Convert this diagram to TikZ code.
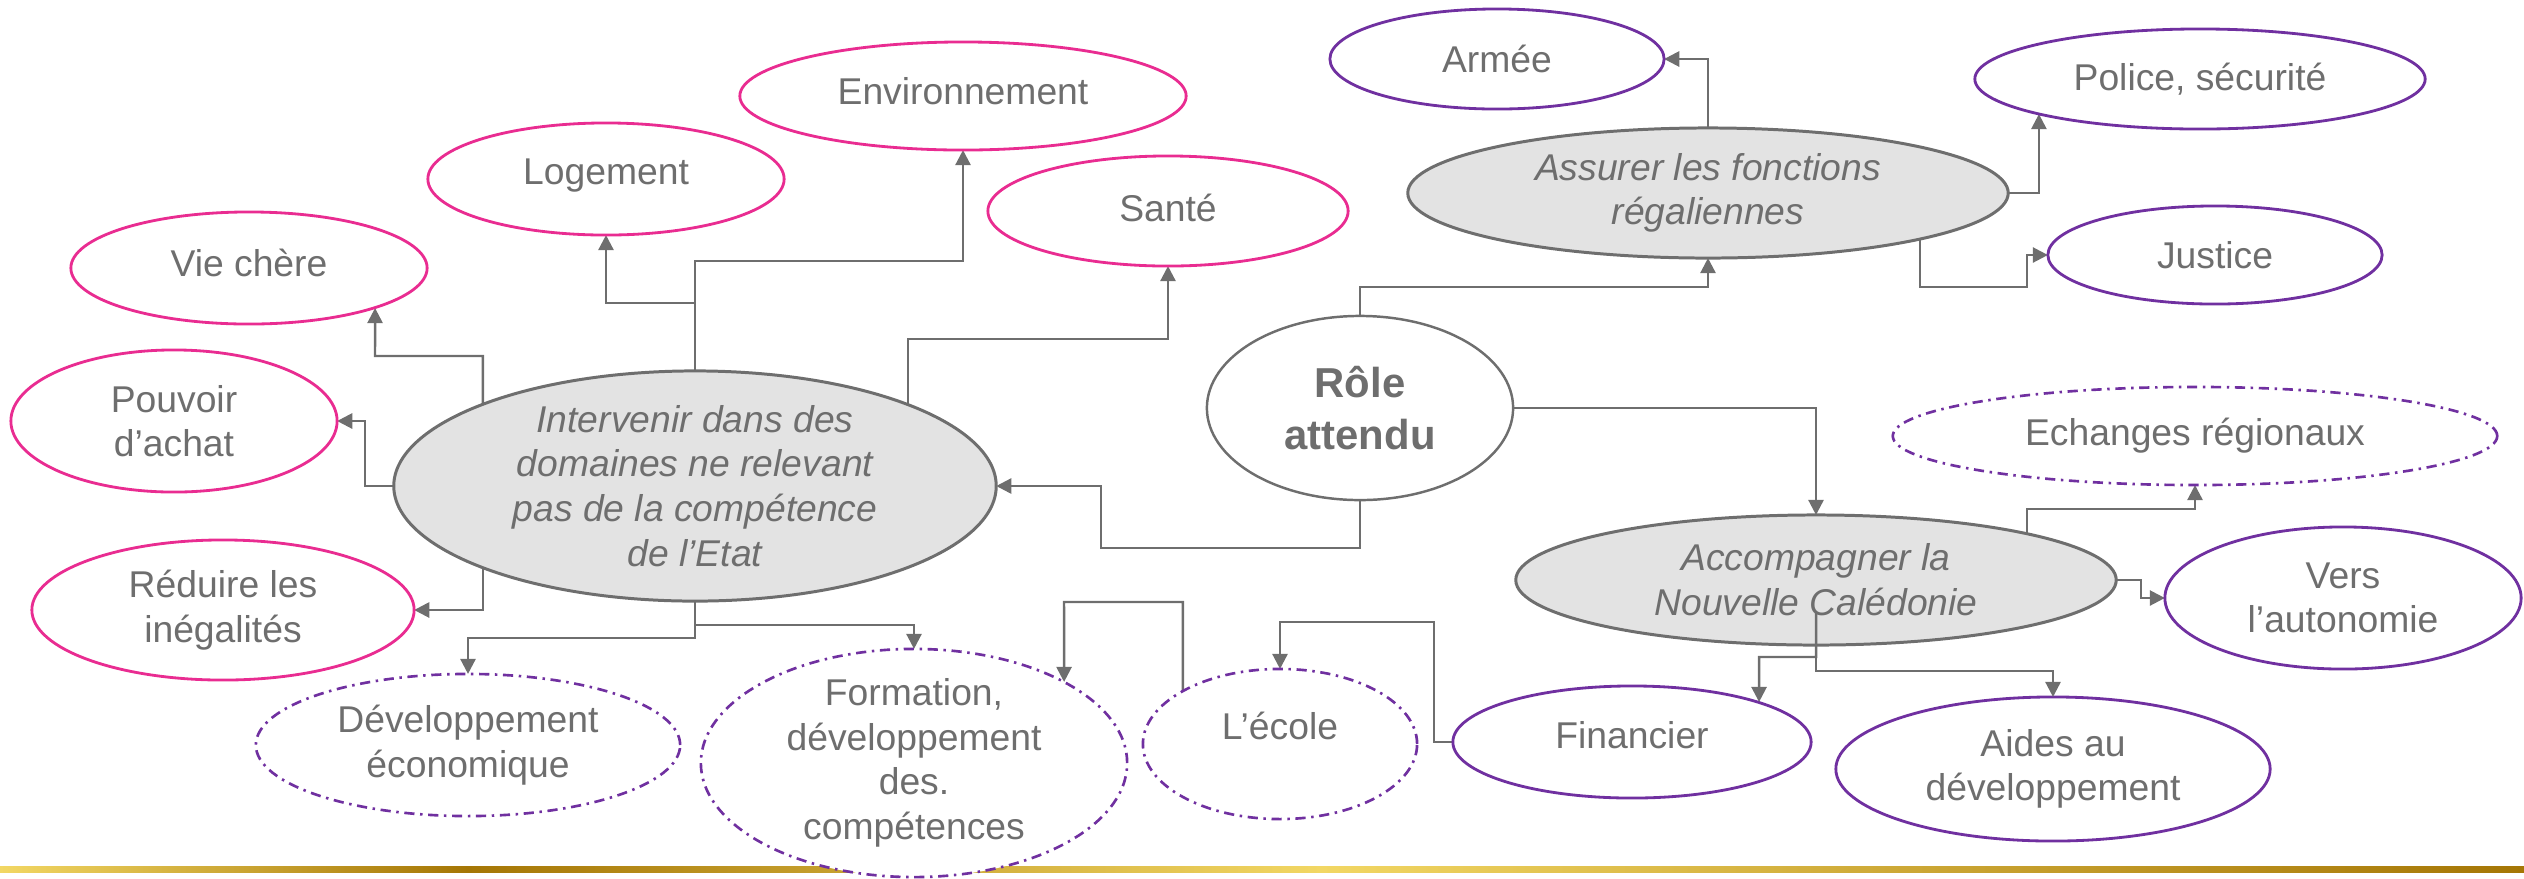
\documentclass[tikz,border=0pt]{standalone}
\usepackage{fontspec}
\setmainfont{Liberation Sans}
\usetikzlibrary{shapes.geometric,arrows.meta,backgrounds}
\definecolor{pinkc}{RGB}{233,44,145}
\definecolor{purpc}{RGB}{112,48,160}
\definecolor{grayc}{RGB}{110,110,110}
\definecolor{txtc}{RGB}{110,110,110}
\definecolor{fillc}{RGB}{227,227,227}
\definecolor{goldl}{RGB}{242,215,100}
\definecolor{goldd}{RGB}{165,118,5}
\newcommand\ellnode[6]{\node[#1, minimum width=#5*0.02cm, minimum height=#6*0.02cm] (#2) at (#3,#4) {};}
\begin{document}
\begin{tikzpicture}[x=0.01cm,y=-0.01cm,
 bub/.style={ellipse, inner sep=0pt, outer sep=0pt, fill=white},
 pinkel/.style={bub, draw=pinkc, line width=0.8pt},
 purpel/.style={bub, draw=purpc, line width=0.8pt},
 purpdd/.style={bub, draw=purpc, line width=0.75pt, dash pattern=on 2.9pt off 1.6pt on 0.7pt off 1.6pt},
 grayel/.style={bub, draw=grayc, line width=0.85pt, fill=fillc},
 roleel/.style={bub, draw=grayc, line width=0.7pt},
 lbl/.style={text=txtc, font=\fontsize{10.6}{12.7}\selectfont, align=center, inner sep=0pt},
 ilbl/.style={lbl, font=\fontsize{10.6}{12.7}\selectfont\itshape},
 blbl/.style={lbl, font=\fontsize{11.9}{14.8}\selectfont\bfseries},
 conn/.style={draw=grayc, line width=0.7pt, -{Triangle[length=4.3pt,width=4.3pt]}},
]
\useasboundingbox (0,0) rectangle (2524,878);
% gold bar
\shade[left color=goldl, right color=goldd] (0,866) rectangle (468,872);
\shade[left color=goldd, right color=goldl] (467,866) rectangle (1321,872);
\shade[left color=goldl, right color=goldd] (1320,866) rectangle (2524,872);
% ellipses
\ellnode{pinkel}{env}{963}{96}{223}{54}
\ellnode{pinkel}{log}{606}{179}{178}{56}
\ellnode{pinkel}{vie}{249}{268}{178}{56}
\ellnode{pinkel}{san}{1168}{211}{180}{55}
\ellnode{pinkel}{pou}{174}{421}{163}{71}
\ellnode{grayel}{inter}{695}{486}{301}{115}
\ellnode{pinkel}{red}{223}{610}{191}{70}
\ellnode{purpdd}{dev}{468}{745}{212}{71}
\ellnode{purpdd}{form}{914}{763}{213}{114}
\ellnode{purpdd}{eco}{1280}{744}{137}{75}
\ellnode{purpel}{fin}{1632}{742}{179}{56}
\ellnode{purpel}{aid}{2053}{769}{217}{72}
\ellnode{purpel}{ver}{2343}{598}{178}{71}
\ellnode{grayel}{acc}{1816}{580}{300}{65}
\ellnode{purpdd}{ech}{2195}{436}{302}{49}
\ellnode{roleel}{role}{1360}{408}{153}{92}
\ellnode{grayel}{ass}{1708}{193}{300}{65}
\ellnode{purpel}{arm}{1497}{59}{167}{50}
\ellnode{purpel}{pol}{2200}{79}{225}{50}
\ellnode{purpel}{jus}{2215}{255}{167}{49}
% texts
\node[lbl] (env-t) at ([yshift=0.05cm]env.center) {Environnement};
\node[lbl] (log-t) at ([yshift=0.03cm]log.center) {Logement};
\node[lbl] (vie-t) at ([yshift=0.05cm]vie.center) {Vie chère};
\node[lbl] (san-t) at ([yshift=0.03cm]san.center) {Santé};
\node[lbl] (pou-t) at (pou.center) {Pouvoir\\d’achat};
\node[ilbl] (inter-t) at (inter.center) {Intervenir dans des\\domaines ne relevant\\pas de la compétence\\de l’Etat};
\node[lbl] (red-t) at (red.center) {Réduire les\\inégalités};
\node[lbl] (dev-t) at (dev.center) {Développement\\économique};
\node[lbl] (form-t) at (form.center) {Formation,\\développement\\des.\\compétences};
\node[lbl] (eco-t) at ([yshift=0.18cm]eco.center) {L’école};
\node[lbl] (fin-t) at ([yshift=0.07cm]fin.center) {Financier};
\node[lbl] (aid-t) at (aid.center) {Aides au\\développement};
\node[lbl] (ver-t) at (ver.center) {Vers\\l’autonomie};
\node[ilbl] (acc-t) at (acc.center) {Accompagner la\\Nouvelle Calédonie};
\node[lbl] (ech-t) at (ech.center) {Echanges régionaux};
\node[blbl] (role-t) at (role.center) {Rôle\\attendu};
\node[ilbl] (ass-t) at (ass.center) {Assurer les fonctions\\régaliennes};
\node[lbl] (arm-t) at (arm.center) {Armée};
\node[lbl] (pol-t) at (pol.center) {Police, sécurité};
\node[lbl] (jus-t) at (jus.center) {Justice};
% connectors
\begin{scope}[on background layer]
\draw[conn] ([xshift=-2.12cm]inter.center) |- (375,356) -- ([xshift=1.26cm,yshift=-0.40cm]vie.center);
\draw[conn] (inter.north) |- (606,303) -- (log.south);
\draw[conn] (inter.north) |- (963,261) -- (env.south);
\draw[conn] ([xshift=2.13cm]inter.center) |- (1168,339) -- (san.south);
\draw[conn] (inter.west) -| (365,421) -- (pou.east);
\draw[conn] ([xshift=-2.12cm]inter.center) |- (red.east);
\draw[conn] (inter.south) |- (468,638) -- (dev.north);
\draw[conn] (inter.south) |- (914,625) -- (form.north);
\draw[conn] (role.south) |- (1101,548) |- (inter.east);
\draw[conn] (role.north) |- (1708,287) -- (ass.south);
\draw[conn] (role.east) -| (acc.north);
\draw[conn] (ass.north) |- (arm.east);
\draw[conn] (ass.east) -| ([xshift=-1.61cm,yshift=-0.35cm]pol.center);
\draw[conn] ([xshift=2.12cm]ass.center) |- (2027,287) |- (jus.west);
\draw[conn] ([xshift=2.11cm]acc.center) |- (2195,509) -- (ech.south);
\draw[conn] (acc.east) -| (2141,598) -- (ver.west);
\draw[conn] (fin.west) -| (1434,622) -| (eco.north);
\draw[conn] ([xshift=-0.97cm,yshift=0.53cm]eco.center) |- (1064,602) -- ([xshift=1.50cm,yshift=0.81cm]form.center);
\end{scope}
\draw[conn] ([yshift=-0.33cm]acc.center) |- (1759,657) -- ([xshift=1.27cm,yshift=0.40cm]fin.center);
\draw[conn] ([yshift=-0.33cm]acc.center) |- (2053,671) -- (aid.north);
\end{tikzpicture}
\end{document}
